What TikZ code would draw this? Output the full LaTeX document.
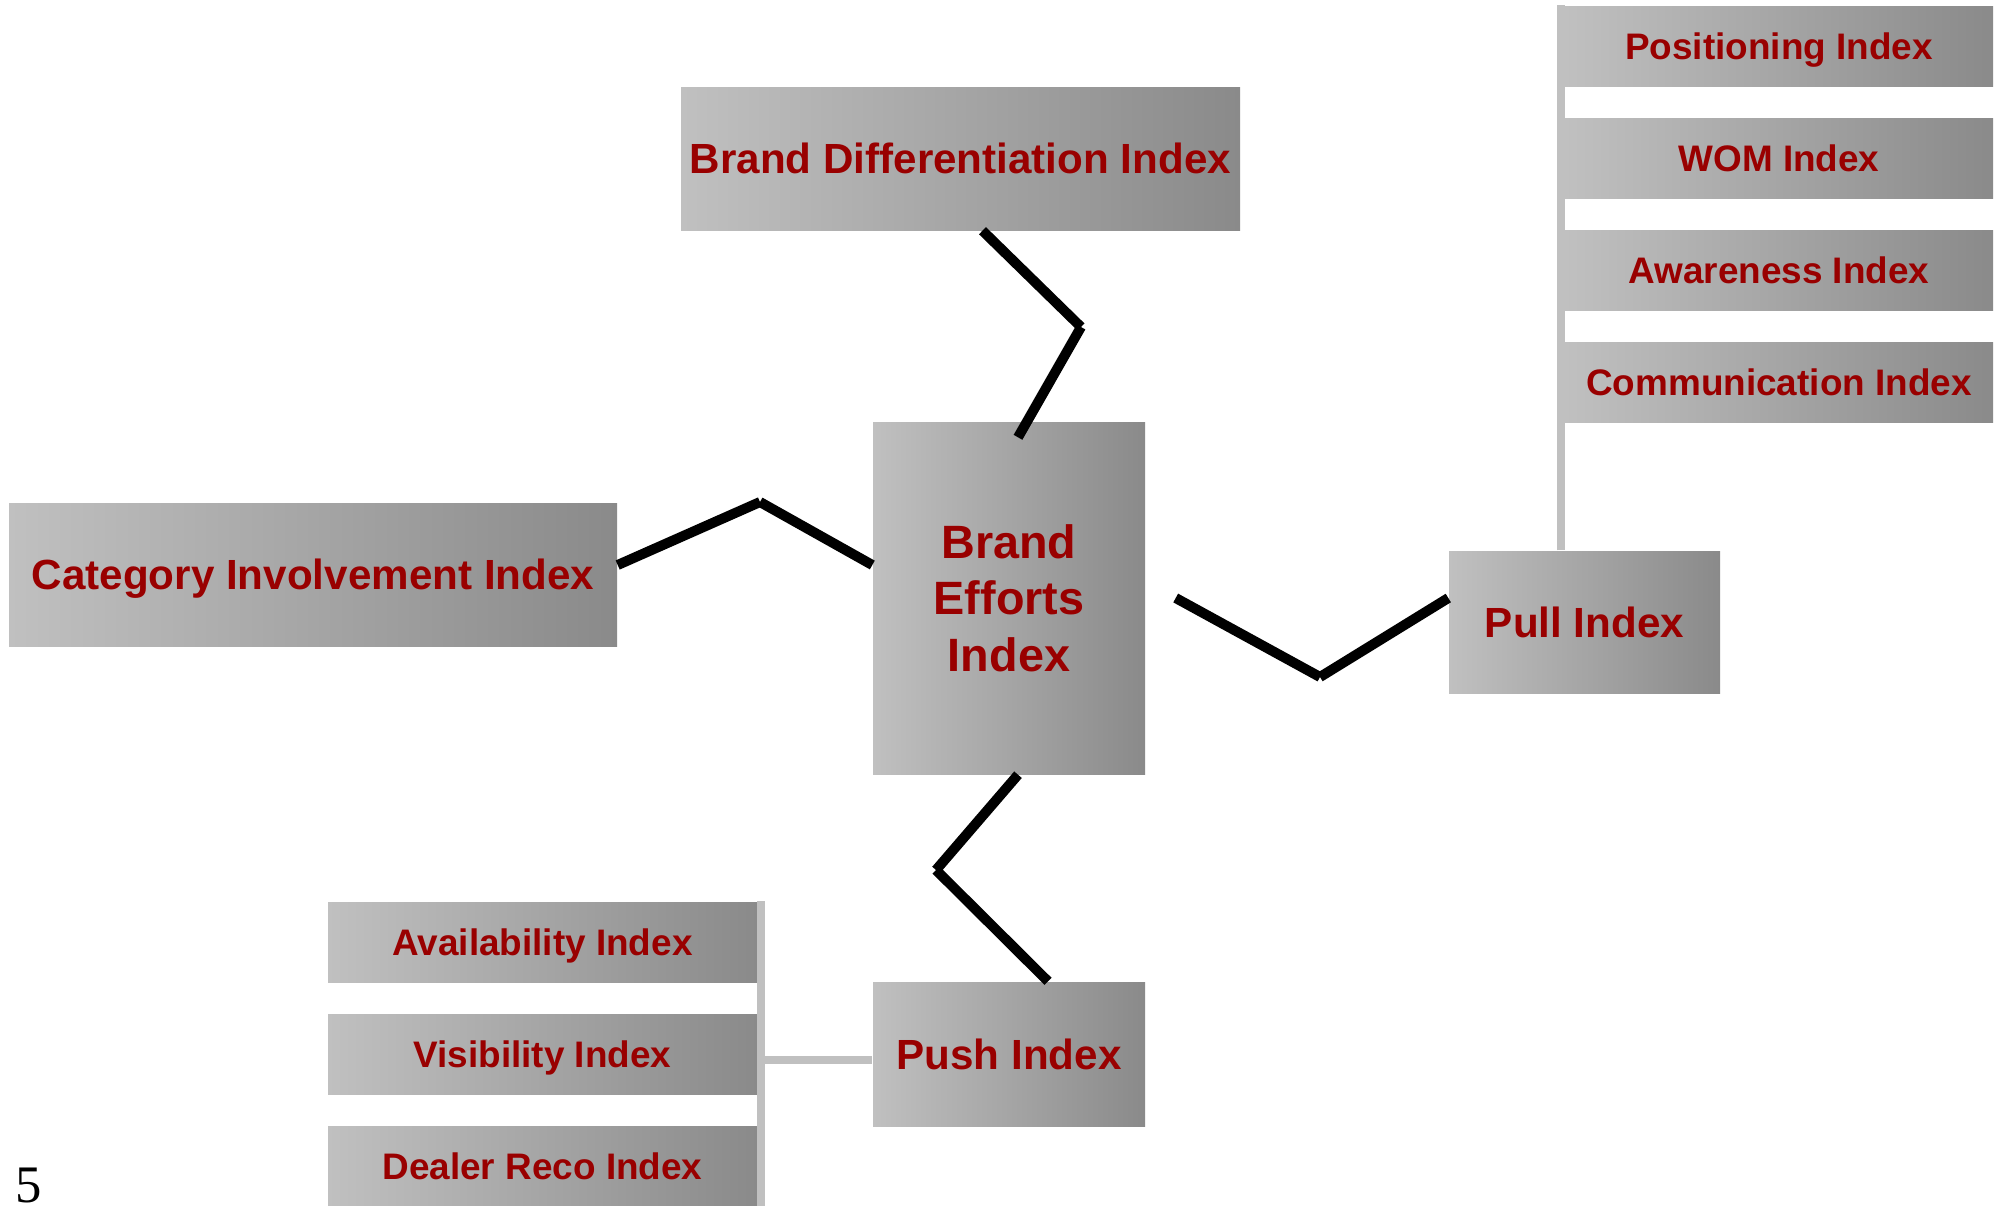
\documentclass[tikz,border=0pt]{standalone}
\usepackage{fontspec}
\setmainfont{Liberation Sans}
\newfontfamily\pagefont{Liberation Serif}
\usetikzlibrary{positioning,calc}
\definecolor{idxred}{RGB}{153,0,0}
\definecolor{boxlight}{RGB}{192,192,192}
\definecolor{boxdark}{RGB}{138,138,138}
\definecolor{feedgray}{RGB}{192,192,192}

\begin{document}
\begin{tikzpicture}[x=0.1mm, y=-0.1mm,
  box/.style={inner sep=0pt, left color=boxlight, right color=boxdark, text=idxred,
    font=\bfseries\fontsize{12}{14}\selectfont, align=center},
  tag/.style={box, text height=8.6pt, text depth=0pt},
  subbox/.style={box, minimum height=8mm, text height=7.5pt, text depth=0pt,
    font=\bfseries\fontsize{10.5}{12}\selectfont},
  link/.style={line width=1mm, black},
  feed/.style={line width=0.78mm, feedgray}]
  \useasboundingbox (0,0) rectangle (1995,1205);
  \clip (0,0) rectangle (1995,1205);

  % main boxes
  \node[tag, minimum width=55.9mm, minimum height=14.3mm] (bdi) at (960.5,158.5) {Brand Differentiation Index};
  \node[box, minimum width=27.2mm, minimum height=35.2mm, text depth=-0.5mm,
    font=\bfseries\fontsize{13.3}{16.2}\selectfont] (bei) at (1009,598) {Brand\\Efforts\\Index};
  \node[tag, minimum width=60.8mm, minimum height=14.3mm] (cii) at (313,574.5) {Category Involvement Index};
  \node[tag, minimum width=27.1mm, minimum height=14.2mm] (pull) at (1584.5,622) {Pull Index};
  \node[tag, minimum width=27.2mm, minimum height=14.4mm] (push) at (1009,1054) {Push Index};

  % pull side
  \foreach \nm/\txt/\y in {pos/Positioning Index/46, wom/WOM Index/158,
                           awr/Awareness Index/270, com/Communication Index/382}
    \node[subbox, minimum width=42.8mm] (\nm) at (1779,\y) {\txt};
  \coordinate (pulltop) at ($(pull.north)+(-23.5,0)$);
  \draw[feed] (pulltop) -- (pulltop |- pos.north);

  % push side
  \foreach \nm/\txt/\y in {avl/Availability Index/942, vis/Visibility Index/1054,
                           dlr/Dealer Reco Index/1166}
    \node[subbox, minimum width=42.9mm] (\nm) at (542.5,\y) {\txt};
  \coordinate (pushjoin) at ($(avl.north east)+(3,0)$);
  \draw[feed] (pushjoin) -- ($(dlr.south east)+(3,10)$);
  \draw[feed] (pushjoin |- 0,1060) -- (push.west |- 0,1060);

  % links to the centre
  \coordinate (bdibend) at (1081,327);
  \draw[link] ($(bdi.south)+(22,0)$) -- (bdibend);
  \draw[link] (bdibend) -- ($(bei.north)+(9,16)$);
  \coordinate (ciibend) at (760,502);
  \draw[link] ($(cii.east)+(0,-9.5)$) -- (ciibend);
  \draw[link] (ciibend) -- ($(bei.west)+(0,-33)$);
  \coordinate (pullbend) at (1320,677);
  \draw[link] ($(bei.east)+(30,0)$) -- (pullbend);
  \draw[link] (pullbend) -- ($(pull.west)+(0,-24)$);
  \coordinate (pushbend) at (936,870);
  \draw[link] ($(bei.south)+(9,0)$) -- (pushbend);
  \draw[link] (pushbend) -- ($(push.north)+(39,0)$);

  \node[font=\pagefont\fontsize{15}{18}\selectfont, anchor=base west, inner sep=0pt] (pagenum) at (15,1202) {5};
\end{tikzpicture}
\end{document}
